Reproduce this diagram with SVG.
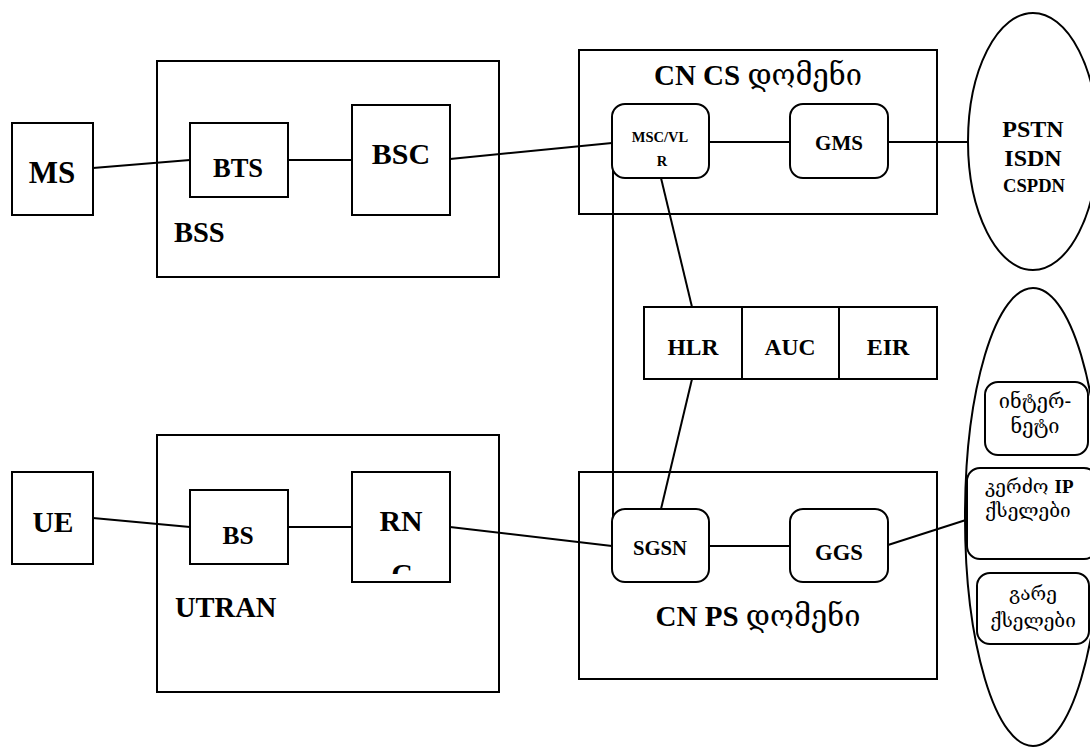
<svg xmlns="http://www.w3.org/2000/svg" width="1090" height="747" viewBox="0 0 1090 747">
  <style>
    .box { fill: #fff; stroke: #000; stroke-width: 2; }
    .frame { fill: none; stroke: #000; stroke-width: 2; }
    .link { fill: none; stroke: #000; stroke-width: 2; }
    .t { font-family: "Liberation Serif", "DejaVu Serif", serif; font-weight: bold; fill: #000; }
    .geo { font-family: "DejaVu Serif", "DejaVu Sans", serif; font-weight: normal; fill: #000; }
    .c { text-anchor: middle; }
  </style>
  <defs>
    <clipPath id="rncClip">
      <rect x="352" y="472" width="98" height="102"/>
    </clipPath>
  </defs>

  <rect width="1090" height="747" fill="#fff"/>

  <!-- area frames -->
  <g id="bss">
    <rect class="frame" x="157" y="61" width="342" height="216"/>
    <text class="t" x="174" y="242" font-size="28.5">BSS</text>
  </g>
  <g id="utran">
    <rect class="frame" x="157" y="435" width="342" height="257"/>
    <text class="t" x="175" y="617" font-size="28.5">UTRAN</text>
  </g>
  <g id="cn-cs">
    <rect class="frame" x="579" y="50" width="358" height="164"/>
    <text class="t c" x="758" y="85" font-size="29">CN CS <tspan class="geo">დომენი</tspan></text>
  </g>
  <g id="cn-ps">
    <rect class="frame" x="579" y="472" width="358" height="207"/>
    <text class="t c" x="758" y="626" font-size="29">CN PS <tspan class="geo">დომენი</tspan></text>
  </g>

  <!-- external networks -->
  <g id="pstn">
    <ellipse class="frame" cx="1033" cy="141.5" rx="65" ry="128.5"/>
    <text class="t c" x="1033" y="137" font-size="24">PSTN</text>
    <text class="t c" x="1033" y="166" font-size="24">ISDN</text>
    <text class="t c" x="1034" y="192" font-size="18.6">CSPDN</text>
  </g>
  <g id="data-networks">
    <ellipse class="frame" cx="1033" cy="517" rx="68" ry="229"/>
  </g>

  <!-- connectors -->
  <g id="connectors">
    <line class="link" x1="93" y1="168" x2="190" y2="160"/>
    <line class="link" x1="288" y1="160" x2="352" y2="160"/>
    <line class="link" x1="450" y1="159" x2="612" y2="143"/>
    <line class="link" x1="709" y1="142" x2="790" y2="142"/>
    <line class="link" x1="888" y1="142" x2="968" y2="142"/>
    <line class="link" x1="613" y1="170" x2="613" y2="520"/>
    <line class="link" x1="661" y1="178" x2="692" y2="307"/>
    <line class="link" x1="692" y1="379" x2="661" y2="509"/>
    <line class="link" x1="93" y1="518" x2="190" y2="527"/>
    <line class="link" x1="288" y1="527" x2="352" y2="527"/>
    <line class="link" x1="450" y1="527" x2="612" y2="546"/>
    <line class="link" x1="709" y1="546" x2="790" y2="546"/>
    <line class="link" x1="888" y1="545" x2="969" y2="519"/>
  </g>

  <!-- GSM access -->
  <g id="ms">
    <rect class="box" x="12" y="123" width="81" height="92"/>
    <text class="t c" x="52" y="183" font-size="31">MS</text>
  </g>
  <g id="bts">
    <rect class="box" x="190" y="123" width="98" height="74"/>
    <text class="t c" x="238" y="177" font-size="26.5">BTS</text>
  </g>
  <g id="bsc">
    <rect class="box" x="352" y="105" width="98" height="110"/>
    <text class="t c" x="401" y="164" font-size="30">BSC</text>
  </g>

  <!-- UMTS access -->
  <g id="ue">
    <rect class="box" x="12" y="472" width="81" height="92"/>
    <text class="t c" x="53" y="532" font-size="29.5">UE</text>
  </g>
  <g id="bs">
    <rect class="box" x="190" y="490" width="98" height="74"/>
    <text class="t c" x="238" y="544" font-size="25.5">BS</text>
  </g>
  <g id="rnc">
    <rect class="box" x="352" y="472" width="98" height="110"/>
    <g clip-path="url(#rncClip)">
      <text class="t c" x="401" y="531" font-size="29.8">RN</text>
      <text class="t c" x="402" y="584" font-size="29.8">C</text>
    </g>
  </g>

  <!-- core network -->
  <g id="msc-vlr">
    <rect class="box" x="612" y="104" width="97" height="74" rx="13"/>
    <text class="t c" x="660" y="142" font-size="14.5">MSC/VL</text>
    <text class="t c" x="662" y="166" font-size="14.5">R</text>
  </g>
  <g id="gms">
    <rect class="box" x="790" y="104" width="98" height="74" rx="13"/>
    <text class="t c" x="839" y="150" font-size="21">GMS</text>
  </g>
  <g id="hlr-auc-eir">
    <rect class="box" x="644" y="307" width="293" height="72"/>
    <line class="link" x1="742" y1="307" x2="742" y2="379"/>
    <line class="link" x1="839" y1="307" x2="839" y2="379"/>
    <text class="t c" x="693" y="355" font-size="23.5">HLR</text>
    <text class="t c" x="790" y="355" font-size="23.5">AUC</text>
    <text class="t c" x="888" y="355" font-size="24">EIR</text>
  </g>
  <g id="sgsn">
    <rect class="box" x="612" y="509" width="97" height="73" rx="13"/>
    <text class="t c" x="660" y="555" font-size="20.7">SGSN</text>
  </g>
  <g id="ggs">
    <rect class="box" x="790" y="509" width="98" height="73" rx="13"/>
    <text class="t c" x="839" y="560" font-size="22.7">GGS</text>
  </g>

  <!-- packet data networks -->
  <g id="internet">
    <rect class="box" x="985" y="382" width="103" height="73" rx="13"/>
    <text class="geo c" x="1035" y="408" font-size="20">ინტერ-</text>
    <text class="geo c" x="1035" y="433" font-size="20">ნეტი</text>
  </g>
  <g id="private-ip">
    <rect class="box" x="967" y="468" width="130" height="91" rx="13"/>
    <text class="geo" x="985" y="493" font-size="19">კერძო <tspan class="t">IP</tspan></text>
    <text class="geo" x="985" y="517" font-size="19">ქსელები</text>
  </g>
  <g id="external">
    <rect class="box" x="977" y="573" width="112" height="71" rx="13"/>
    <text class="geo c" x="1033" y="600" font-size="19">გარე</text>
    <text class="geo c" x="1033" y="627" font-size="19">ქსელები</text>
  </g>
</svg>
